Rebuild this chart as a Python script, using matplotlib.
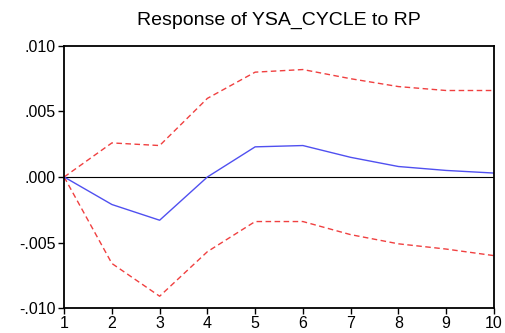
import matplotlib.pyplot as plt
from matplotlib.ticker import FuncFormatter

plt.rcParams['font.family'] = ['Liberation Sans', 'DejaVu Sans']

# Impulse response values
periods = [1, 2, 3, 4, 5, 6, 7, 8, 9, 10]
response = [0.0, -0.0021, -0.0033, 0.0000, 0.0023, 0.0024, 0.0015, 0.0008, 0.0005, 0.0003]
upper = [0.0, 0.0026, 0.0024, 0.0060, 0.0080, 0.0082, 0.0075, 0.0069, 0.0066, 0.0066]
lower = [0.0, -0.0066, -0.0091, -0.0057, -0.0034, -0.0034, -0.0044, -0.0051, -0.0055, -0.0060]
y_ticks = [-0.010, -0.005, 0.0, 0.005, 0.010]

fig = plt.figure(figsize=(5.05, 3.33), dpi=100)
ax = fig.add_axes([0.127, 0.075, 0.851, 0.787])

ax.axhline(0, color='black', linewidth=0.8)
ax.plot(periods, upper, color='#f04040', linestyle=(0, (4, 2.5)), linewidth=1)
ax.plot(periods, lower, color='#f04040', linestyle=(0, (4, 2.5)), linewidth=1)
ax.plot(periods, response, color='#5050f0', linewidth=1)

ax.set_xlim(1, 10)
ax.set_ylim(-0.010, 0.010)
ax.set_xticks(periods)
ax.set_yticks(y_ticks)


def fmt(v, pos):
    s = f"{v:.3f}"
    return s.replace("0.", ".", 1)


ax.yaxis.set_major_formatter(FuncFormatter(fmt))
ax.tick_params(axis='both', direction='out', length=4.5, width=1, labelsize=11.5, pad=1.5)
for sp in ax.spines.values():
    sp.set_linewidth(1.3)

ax.set_title("Response of YSA_CYCLE to RP", fontsize=14, pad=15)

fig.savefig("out.png", dpi=100)
